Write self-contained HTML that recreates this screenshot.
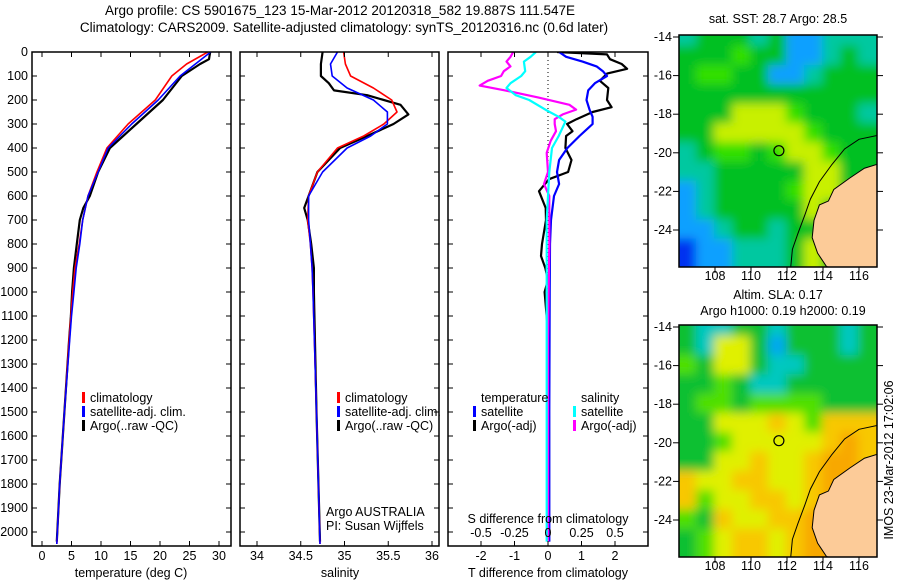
<!DOCTYPE html>
<html><head><meta charset="utf-8"><style>
body{margin:0;background:#fff;}
svg{display:block;font-family:"Liberation Sans",sans-serif;}
text{font-size:12.5px;fill:#000;}
</style></head><body>
<svg id="chart" width="900" height="580" viewBox="0 0 900 580">
<text x="340" y="15" text-anchor="middle" style="font-size:13.5px">Argo profile: CS 5901675_123 15-Mar-2012 20120318_582 19.887S 111.547E</text>
<text x="344" y="32" text-anchor="middle" style="font-size:13.5px">Climatology: CARS2009. Satellite-adjusted climatology: synTS_20120316.nc (0.6d later)</text>
<defs>
<clipPath id="c1"><rect x="32" y="52" width="199" height="494"/></clipPath>
<clipPath id="c2"><rect x="240" y="52" width="199" height="494"/></clipPath>
<clipPath id="c3"><rect x="448" y="52" width="200" height="494"/></clipPath>
<clipPath id="m1"><rect x="679" y="35" width="198" height="232"/></clipPath>
<clipPath id="m2"><rect x="679" y="325" width="198" height="232"/></clipPath>
<filter id="bl" x="-10%" y="-10%" width="120%" height="120%"><feGaussianBlur stdDeviation="5"/></filter>
</defs>
<g id="g1" clip-path="url(#c1)"></g>
<g id="g2" clip-path="url(#c2)"></g>
<g id="g3" clip-path="url(#c3)"></g>
<g id="axes"></g>
<g id="map1" clip-path="url(#m1)"></g>
<g id="map2" clip-path="url(#m2)"></g>
<g id="mapaxes"></g>
<text x="778" y="23" text-anchor="middle">sat. SST: 28.7 Argo: 28.5</text>
<text x="778" y="299" text-anchor="middle">Altim. SLA: 0.17</text>
<text x="783" y="315" text-anchor="middle">Argo h1000: 0.19 h2000: 0.19</text>
<text transform="translate(893,460) rotate(-90)" text-anchor="middle">IMOS 23-Mar-2012 17:02:06</text>
</svg>
<script>
// ---- data ----
const tClimDepth=[0,50,100,200,300,400,500,600,700,800,900,1000,1100,1200,1500,1800,2050];
const tClim=[28.1,24.5,22,19.2,14.6,11,9.3,7.8,6.9,6.3,5.6,5.2,4.9,4.6,3.8,3.0,2.5];
const tSatDepth=[0,50,100,200,300,400,500,600,700,800,900,1000,1100,1200,1500,1800,2050];
const tSat=[28.6,26,23.4,19.7,15.2,11.2,9.5,7.8,6.9,6.4,5.8,5.4,5.0,4.7,3.8,3.0,2.5];
const tArgoDepth=[0,30,50,100,200,300,400,500,600,650,700,800,900,1000,1100,1200,1500,1800,2040];
const tArgo=[28.5,28.3,26.8,23.7,20.5,16,11.5,9.5,8.1,7.0,6.4,5.9,5.4,5.1,4.9,4.6,3.8,3.0,2.5];
const sClimDepth=[0,50,100,150,200,250,300,350,400,500,600,700,800,900,1000,1500,2050];
const sClim=[34.99,35.01,35.07,35.33,35.54,35.6,35.45,35.22,34.92,34.69,34.59,34.58,34.61,34.63,34.64,34.68,34.72];
const sSatDepth=[0,50,100,150,200,250,300,350,400,500,600,700,800,900,1000,1500,2050];
const sSat=[34.92,34.84,34.86,35.03,35.33,35.49,35.49,35.3,35.03,34.75,34.59,34.59,34.61,34.63,34.64,34.68,34.72];
const sArgoDepth=[0,50,100,130,160,180,220,260,300,350,400,500,600,650,700,800,900,1000,1500,2040];
const sArgo=[34.75,34.73,34.73,34.82,34.88,35.26,35.64,35.73,35.56,35.26,34.95,34.69,34.59,34.54,34.58,34.62,34.65,34.65,34.68,34.72];
const dTArgoDepth=[0,10,30,50,70,90,120,150,200,230,250,280,300,330,350,400,450,500,530,580,650,700,750,800,850,900,950,1000,1200,1600,2040];
const dTArgo=[0.27,1.76,1.85,2.2,2.36,1.76,1.55,1.8,1.76,1.9,1.33,0.85,0.57,0.73,0.54,0.52,0.7,0.6,0.03,-0.27,-0.07,-0.06,-0.12,-0.18,-0.21,-0.08,0.0,-0.1,0.02,0.03,0.03];
const dTSatDepth=[0,20,40,60,80,100,130,160,200,240,270,300,350,400,450,500,550,600,700,800,1000,1500,2040];
const dTSat=[0.33,0.54,1.03,1.45,1.64,1.76,1.4,1.2,1.15,1.24,1.33,1.33,0.94,0.58,0.33,0.27,0.33,0.18,0.09,0.06,0.05,0.04,0.04];
const dSArgoDepth=[0,20,40,60,80,100,120,140,160,190,220,240,260,280,300,330,370,420,500,550,600,800,1200,2040];
const dSArgo=[-0.26,-0.28,-0.31,-0.28,-0.33,-0.35,-0.45,-0.51,-0.32,-0.07,0.16,0.21,0.11,0.05,0.05,0.06,0.02,-0.01,0.0,-0.03,0.01,0.01,0.0,0.0];
const dSSatDepth=[0,20,40,80,100,130,150,180,200,240,270,290,350,400,500,700,1000,2040];
const dSSat=[-0.09,-0.13,-0.18,-0.17,-0.2,-0.28,-0.31,-0.24,-0.14,-0.02,0.08,0.13,0.08,0.03,0.01,-0.01,-0.01,-0.01];
const depthTicks=[0,100,200,300,400,500,600,700,800,900,1000,1100,1200,1300,1400,1500,1600,1700,1800,1900,2000];
const tempTicks=[0,5,10,15,20,25,30];
const salTicks=[34,34.5,35,35.5,36];
const dTTicks=[-2,-1,0,1,2];
const dSTicks=[-0.5,-0.25,0,0.25,0.5];
const lonTicks=[108,110,112,114,116];
const latTicks=[-14,-16,-18,-20,-22,-24];
// ---- scales ----
const NS='http://www.w3.org/2000/svg';
const yD=d=>52+d*0.24;
const xT=v=>42+5.9*v;
const xS=v=>257+87.5*(v-34);
const xdT=v=>548+33.5*v;
const xdS=v=>548+134*v;
function mk(tag,at,parent){const e=document.createElementNS(NS,tag);for(const k in at)e.setAttribute(k,at[k]);parent.appendChild(e);return e;}
function series(g,ds,vs,xf,col,w,name){
  let p='';ds.forEach((d,i)=>{p+=(i?'L':'M')+xf(vs[i]).toFixed(1)+','+yD(d).toFixed(1);});
  const e=mk('path',{d:p,fill:'none',stroke:col,'stroke-width':w,'stroke-linejoin':'round'},g);
  
  
}
const g1=document.getElementById('g1'),g2=document.getElementById('g2'),g3=document.getElementById('g3'),ax=document.getElementById('axes');
series(g1,tArgoDepth,tArgo,xT,'#000',2.2,'temp-argo-line');
series(g1,tClimDepth,tClim,xT,'#f00',1.6,'temp-climatology-line');
series(g1,tSatDepth,tSat,xT,'#00f',1.6,'temp-satellite-line');
series(g2,sArgoDepth,sArgo,xS,'#000',2.2,'sal-argo-line');
series(g2,sClimDepth,sClim,xS,'#f00',1.6,'sal-climatology-line');
series(g2,sSatDepth,sSat,xS,'#00f',1.6,'sal-satellite-line');
const zl=mk('line',{x1:548,y1:52,x2:548,y2:546,stroke:'#000','stroke-dasharray':'1,3'},g3);


series(g3,dTArgoDepth,dTArgo,xdT,'#000',2.2,'dT-argo-line');
series(g3,dTSatDepth,dTSat,xdT,'#00f',2.2,'dT-satellite-line');
series(g3,dSArgoDepth,dSArgo,xdS,'#f0f',2.2,'dS-argo-line');
series(g3,dSSatDepth,dSSat,xdS,'#0ff',2.2,'dS-satellite-line');
// frames + ticks
function txt(x,y,s,anchor,name,parent){const t=mk('text',{x:x,y:y,'text-anchor':anchor||'middle'},parent||ax);t.textContent=s;return t;}
[[32,231],[240,439],[448,648]].forEach((p,i)=>{
  const r=mk('rect',{x:p[0],y:52,width:p[1]-p[0],height:494,fill:'none',stroke:'#000','stroke-width':1.5},ax);
  
  
  depthTicks.forEach(d=>{mk('line',{x1:p[0],y1:yD(d),x2:p[0]+5,y2:yD(d),stroke:'#000'},ax);mk('line',{x1:p[1]-5,y1:yD(d),x2:p[1],y2:yD(d),stroke:'#000'},ax);});
});
depthTicks.forEach(d=>txt(28,yD(d)+4,String(d),'end','depth-tick-label'));
function xticks(ticks,xf,fmt,name){ticks.forEach(v=>{const x=xf(v);mk('line',{x1:x,y1:52,x2:x,y2:57,stroke:'#000'},ax);mk('line',{x1:x,y1:541,x2:x,y2:546,stroke:'#000'},ax);txt(x,560,fmt(v),'middle',name);});}
xticks(tempTicks,xT,String,'temp-tick-label');
xticks(salTicks,xS,String,'sal-tick-label');
xticks(dTTicks,xdT,String,'dT-tick-label');
dSTicks.forEach(v=>txt(xdS(v),537,String(v),'middle','dS-tick-label'));
txt(131,577,'temperature (deg C)','middle','x-axis-title-temp');
txt(340,577,'salinity','middle','x-axis-title-sal');
txt(548,577,'T difference from climatology','middle','x-axis-title-dT');
txt(548,523,'S difference from climatology','middle','dS-axis-title');
function leg(x,y,col,label,name){const b=mk('rect',{x:x,y:y-10,width:3,height:11,fill:col},ax);txt(x+8,y,label,'start',name);}
leg(82,402,'#f00','climatology','legend-climatology');
leg(82,416,'#00f','satellite-adj. clim.','legend-satellite');
leg(82,430,'#000','Argo(..raw -QC)','legend-argo');
leg(337,402,'#f00','climatology','legend2-climatology');
leg(337,416,'#00f','satellite-adj. clim.','legend2-satellite');
leg(337,430,'#000','Argo(..raw -QC)','legend2-argo');
txt(326,516,'Argo AUSTRALIA','start','argo-australia-label');
txt(326,530,'PI: Susan Wijffels','start','pi-label');
txt(481,402,'temperature','start','legend3-temperature-head');
leg(473,416,'#00f','satellite','legend3-t-satellite');
leg(473,430,'#000','Argo(-adj)','legend3-t-argo');
txt(581,402,'salinity','start','legend3-salinity-head');
leg(573,416,'#0ff','satellite','legend3-s-satellite');
leg(573,430,'#f0f','Argo(-adj)','legend3-s-argo');
// ---- maps (imagery) ----
const sstRows=['cgggcgbbccc','gggGggbbcgc','gGGggbbcggg','ggggggggggg','gggyyyGgggc','ggyyyyyGggg','cgGGgGyyGgg','ccgggggyygg','bcggggGyygg','bcgggggyggg','bbcggcggGgg','Bbbcccgyggg'];
const slaRows=['gccggcgggcg','gcyygbgggcg','Ggyygccgggg','ggGgccggggg','gGGgGGGGggg','ggyyyoyGooo','ggGyyyyyoOo','ggyyoyyoOOo','oyyooyyoOOo','oGyyooyoOOo','GgoyyooOOOo','gGyooyoOOOo'];
const sstCol={B:'#0030f0',b:'#10a0ff',c:'#00c8a0',g:'#00c020',G:'#30e000',y:'#c8f000'};
const slaCol={g:'#10c030',G:'#50e000',c:'#00c8c0',b:'#00a8f0',y:'#e0f000',o:'#f8c800',O:'#f8a800'};
const lonX=(lon,x0)=>x0+(lon-106)*18;
const latY=(lat,y0)=>y0+(-14-lat)*19.3+2;
function drawMap(id,rows,cols,y0,name){
  const g=document.getElementById(id);
  const bg=mk('g',{filter:'url(#bl)'},g);
  mk('rect',{x:660,y:y0-20,width:240,height:280,fill:cols[rows[6][5]]},bg);
  rows.forEach((r,j)=>{[...r].forEach((ch,i)=>{mk('rect',{x:lonX(106+i,679)-(i==0?20:1),y:latY(-13.5-j,y0)-(j==0?20:1),width:20+(i==0?19:0)+(i==10?20:0),height:21+(j==0?19:0)+(j==11?20:0),fill:cols[ch]},bg);});});
  const land=[[117,-20.6],[116.3,-20.8],[115.5,-21.3],[114.6,-21.9],[114.3,-22.5],[113.8,-22.7],[113.5,-23.5],[113.4,-24.4],[113.7,-25.2],[114.2,-25.9],[117.5,-26.5]];
  const lp=mk('polygon',{points:land.map(p=>lonX(p[0],679)+','+latY(p[1],y0)).join(' '),fill:'#fccb98',stroke:'#000','stroke-width':1},g);
  
  
  const shelf=[[117,-19.1],[116,-19.3],[115.2,-19.8],[114.5,-20.6],[113.8,-21.5],[113.3,-22.4],[113,-23.2],[112.6,-24.2],[112.3,-25],[112.2,-26]];
  mk('polyline',{points:shelf.map(p=>lonX(p[0],679)+','+latY(p[1],y0)).join(' '),fill:'none',stroke:'#000','stroke-width':1},g);
  const c=mk('circle',{cx:lonX(111.55,679),cy:latY(-19.89,y0),r:5,fill:'none',stroke:'#000','stroke-width':1.2},g);
  
  
}
drawMap('map1',sstRows,sstCol,35,'sst-map');
drawMap('map2',slaRows,slaCol,325,'sla-map');
const ma=document.getElementById('mapaxes');
[35,325].forEach((y0,k)=>{
  const f=mk('rect',{x:679,y:y0,width:198,height:232,fill:'none',stroke:'#000','stroke-width':1.5},ma);
  
  
  latTicks.forEach(l=>{const y=latY(l,y0);mk('line',{x1:673,y1:y,x2:679,y2:y,stroke:'#000'},ma);mk('line',{x1:877,y1:y,x2:883,y2:y,stroke:'#000'},ma);txt(672,y+4,String(l),'end','lat-tick-label',ma);});
  lonTicks.forEach(l=>{const x=lonX(l,679);mk('line',{x1:x,y1:y0+232,x2:x,y2:y0+238,stroke:'#000'},ma);txt(x,y0+245,String(l),'middle','lon-tick-label',ma);});
});
</script>
</body></html>
